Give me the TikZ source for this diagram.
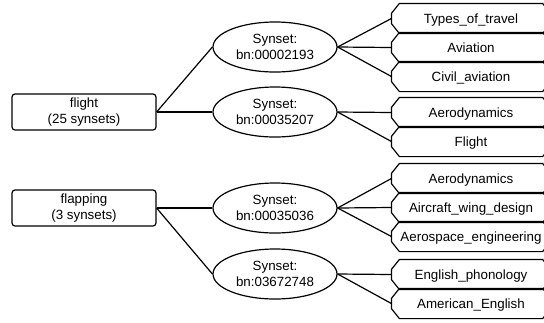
\documentclass[tikz,border=0pt]{standalone}
\usepackage{fontspec}
\setmainfont{Liberation Sans}
\usetikzlibrary{shapes.geometric}
\begin{document}
\begin{tikzpicture}[x=1bp,y=-1bp,line width=1.2bp,
  font=\fontsize{13.4}{16}\selectfont,
  word/.style={draw,rounded corners=3bp,minimum width=144bp,minimum height=36bp,
    align=center,inner sep=0pt},
  synset/.style={draw,ellipse,minimum width=124bp,minimum height=50bp,
    align=center,inner sep=0pt},
  cat/.style={minimum width=158bp,minimum height=29bp,
    text height=9.8bp,text depth=0.2bp,inner sep=0pt}]
  \useasboundingbox (0,0) rectangle (544,322);
  % words
  \node[word] (flight) at (84,112) {flight\\(25 synsets)};
  \node[word] (flapping) at (84,208) {flapping\\(3 synsets)};
  % synsets
  \node[synset] (s1) at (275,47) {Synset:\\bn:00002193};
  \node[synset] (s2) at (275,112) {Synset:\\bn:00035207};
  \node[synset] (s3) at (275,208) {Synset:\\bn:00035036};
  \node[synset] (s4) at (275,274) {Synset:\\bn:03672748};
  % categories
  \node[cat] (c1) at (471,18.5) {Types\_of\_travel};
  \node[cat] (c2) at (471,47.5) {Aviation};
  \node[cat] (c3) at (471,76.5) {Civil\_aviation};
  \node[cat] (c4) at (471,112.5) {Aerodynamics};
  \node[cat] (c5) at (471,141.5) {Flight};
  \node[cat] (c6) at (471,178.5) {Aerodynamics};
  \node[cat] (c7) at (471,207.5) {Aircraft\_wing\_design};
  \node[cat] (c8) at (471,236.5) {Aerospace\_engineering};
  \node[cat] (c9) at (471,274.5) {English\_phonology};
  \node[cat] (c10) at (471,303.5) {American\_English};
  % chamfered outlines
  \foreach \c in {c1,c2,c3,c4,c5,c6,c7,c8,c9,c10}
    \draw ([xshift=8bp]\c.north west) -- ([xshift=-8bp]\c.north east)
      -- ([yshift=-10bp]\c.north east) -- ([yshift=10bp]\c.south east)
      -- ([xshift=-8bp]\c.south east) -- ([xshift=8bp]\c.south west)
      -- ([yshift=10bp]\c.south west) -- ([yshift=-10bp]\c.north west) -- cycle;
  % links
  \draw (flight.east) -- (s1.west);
  \draw (flight.east) -- (s2.west);
  \draw (flapping.east) -- (s3.west);
  \draw (flapping.east) -- (s4.west);
  \foreach \c in {c1,c2,c3} \draw (s1.east) -- (\c.west);
  \foreach \c in {c4,c5} \draw (s2.east) -- (\c.west);
  \foreach \c in {c6,c7,c8} \draw (s3.east) -- (\c.west);
  \foreach \c in {c9,c10} \draw (s4.east) -- (\c.west);
\end{tikzpicture}
\end{document}
